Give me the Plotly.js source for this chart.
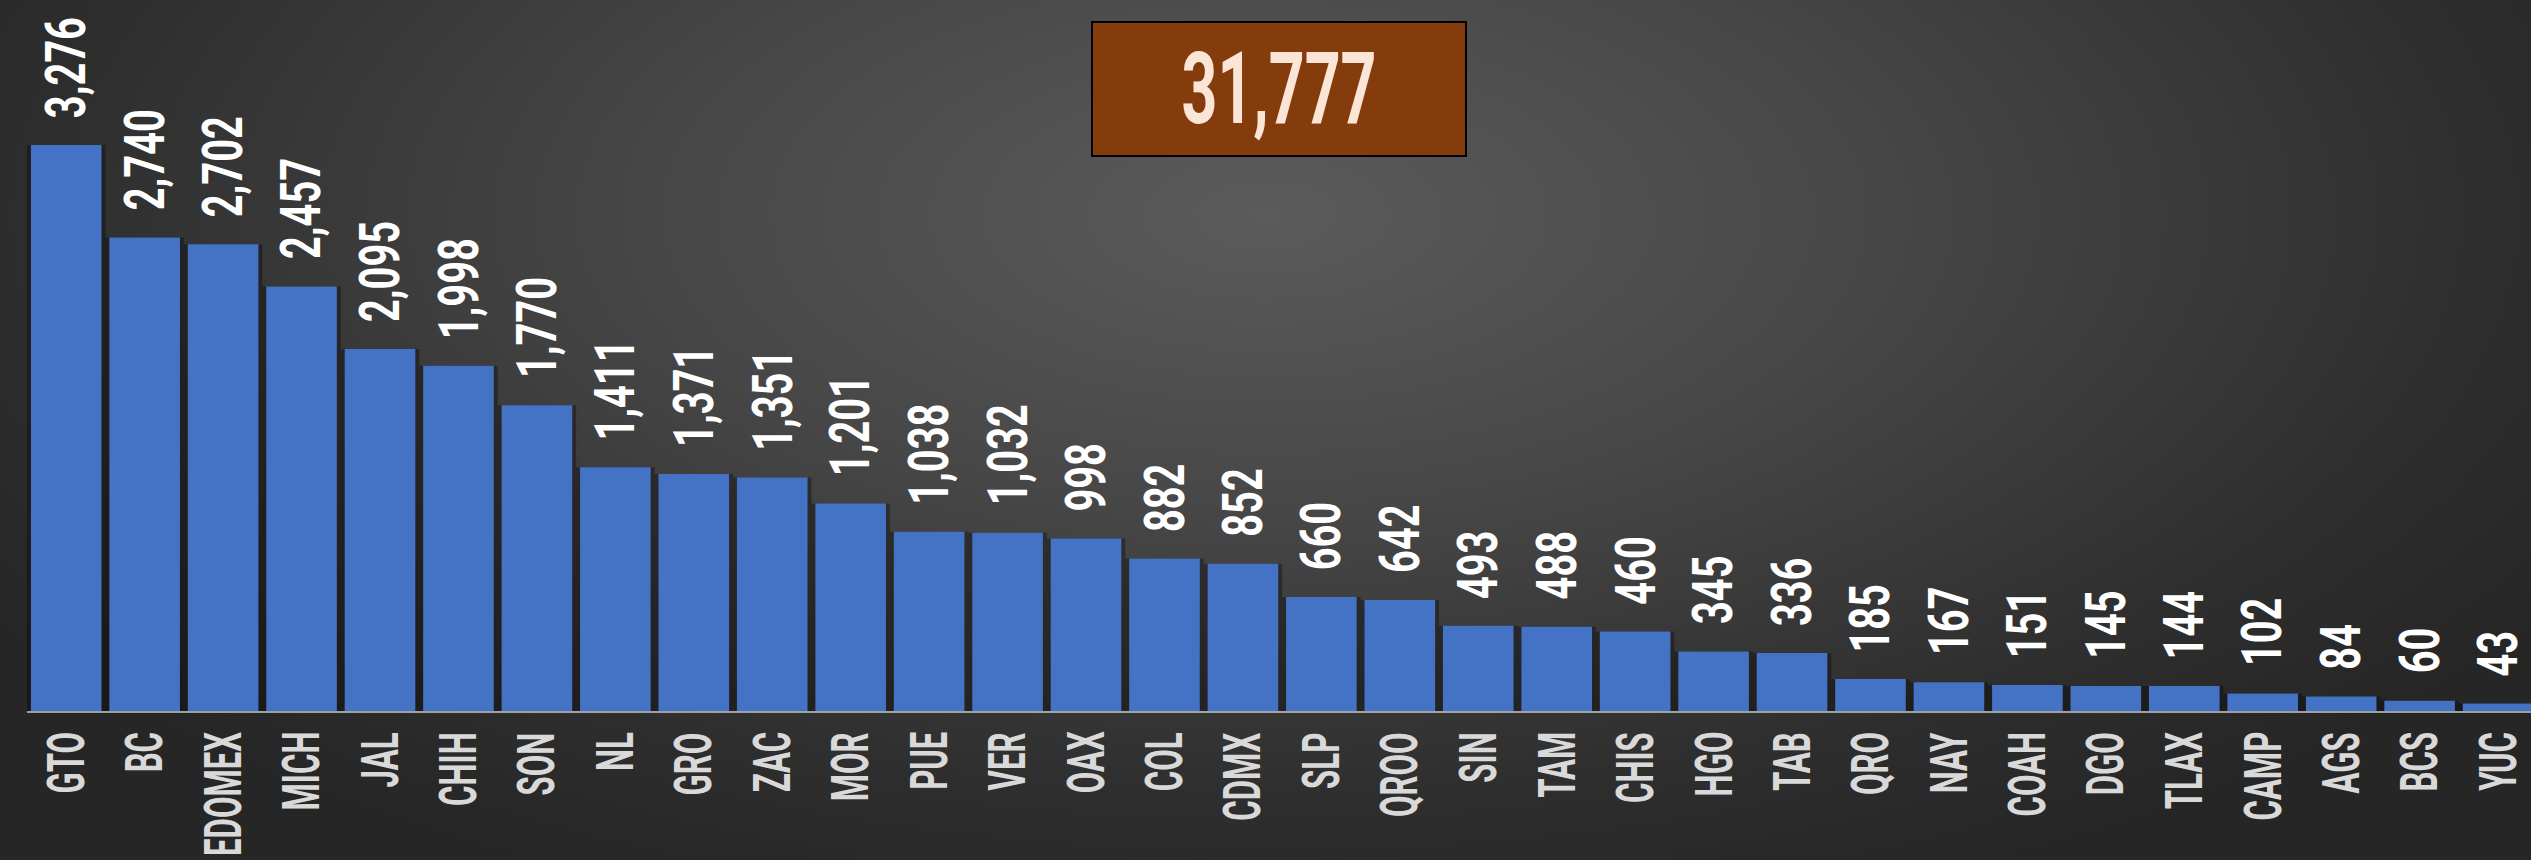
<!DOCTYPE html>
<html>
<head>
<meta charset="utf-8">
<script src="https://cdn.plot.ly/plotly-3.0.1.min.js"></script>
<style>
  html, body { margin: 0; padding: 0; width: 2531px; height: 860px; overflow: hidden; }
  body {
    background: radial-gradient(ellipse 60% 85% at 50% 25%, #5b5b5b 0%, #474747 40%, #2e2e2e 80%, #262626 100%);
  }
  #chart { width: 2531px; height: 860px; }
</style>
</head>
<body>
<div id="chart"></div>
<script>
// ---- data ----
const states = ["GTO","BC","EDOMEX","MICH","JAL","CHIH","SON","NL","GRO","ZAC","MOR","PUE","VER","OAX","COL","CDMX","SLP","QROO","SIN","TAM","CHIS","HGO","TAB","QRO","NAY","COAH","DGO","TLAX","CAMP","AGS","BCS","YUC"];
const counts = [3276,2740,2702,2457,2095,1998,1770,1411,1371,1351,1201,1038,1032,998,882,852,660,642,493,488,460,345,336,185,167,151,145,144,102,84,60,43];
const totalLabel = "31,777";

const FONT = "Roboto, 'DejaVu Sans Condensed', sans-serif";
// horizontal squeeze to imitate the narrow display typeface of the original
const SQUEEZE = { value: 0.71, tick: 0.6, title: 0.62 };

// soft drop shadow behind the bars (visual effect of the original)
const shadow = {
  type: 'bar',
  x: states,
  y: counts,
  width: 1.0,
  marker: { color: 'rgba(0,0,0,0.33)', line: { width: 0 } },
  hoverinfo: 'skip'
};

const bar = {
  type: 'bar',
  x: states,
  y: counts,
  width: 0.9,
  marker: { color: '#4472c4', line: { width: 0 } },
  hoverinfo: 'x+y'
};

const valueAnns = states.map((s, i) => ({
  x: s, y: counts[i],
  xref: 'x', yref: 'y',
  text: counts[i].toLocaleString('en-US'),
  textangle: -90,
  showarrow: false,
  xanchor: 'center', yanchor: 'bottom',
  yshift: 25,
  font: { family: FONT, size: 56, color: '#ffffff', weight: 'bold' }
}));

const tickAnns = states.map((s) => ({
  x: s, y: 0,
  xref: 'x', yref: 'paper',
  text: s,
  textangle: -90,
  showarrow: false,
  xanchor: 'center', yanchor: 'top',
  yshift: -19,
  font: { family: FONT, size: 52, color: '#d9d9d9', weight: 'bold' }
}));

const titleAnn = {
  xref: 'paper', yref: 'paper',
  x: 0.5, y: 0.875,
  xanchor: 'center', yanchor: 'middle',
  text: totalLabel,
  showarrow: false,
  bgcolor: '#843c0c',
  bordercolor: '#000000',
  borderwidth: 2,
  borderpad: 0,
  width: 372,
  height: 132,
  font: { family: FONT, size: 101, color: '#fbe5d6', weight: 'bold' }
};

const layout = {
  width: 2531,
  height: 860,
  margin: { l: 27, r: 0, t: 0, b: 149, pad: 0 },
  paper_bgcolor: 'rgba(0,0,0,0)',
  plot_bgcolor: 'rgba(0,0,0,0)',
  barmode: 'overlay',
  showlegend: false,
  xaxis: {
    type: 'category',
    range: [-0.5, 31.42],
    showgrid: false,
    zeroline: false,
    showline: true,
    linecolor: 'rgba(200,200,200,0.75)',
    linewidth: 2,
    ticks: '',
    showticklabels: false,
    fixedrange: true
  },
  yaxis: {
    range: [0, 4115],
    visible: false,
    showgrid: false,
    zeroline: false,
    fixedrange: true
  },
  annotations: valueAnns.concat(tickAnns, [titleAnn])
};

Plotly.newPlot('chart', [shadow, bar], layout, { displayModeBar: false, staticPlot: true }).then(() => {
  const n = states.length;
  document.querySelectorAll('#chart g.annotation').forEach((g) => {
    const idx = +g.getAttribute('data-index');
    const t = g.querySelector('text.annotation-text');
    if (!t) return;
    let sx, origin;
    if (idx < n) { sx = SQUEEZE.value; origin = '0% 50%'; }
    else if (idx < 2 * n) { sx = SQUEEZE.tick; origin = '100% 50%'; }
    else { sx = SQUEEZE.title; origin = '50% 50%'; }
    t.style.transformBox = 'fill-box';
    t.style.transformOrigin = origin;
    t.style.transform = 'scaleX(' + sx + ')';
  });
});
</script>
</body>
</html>
